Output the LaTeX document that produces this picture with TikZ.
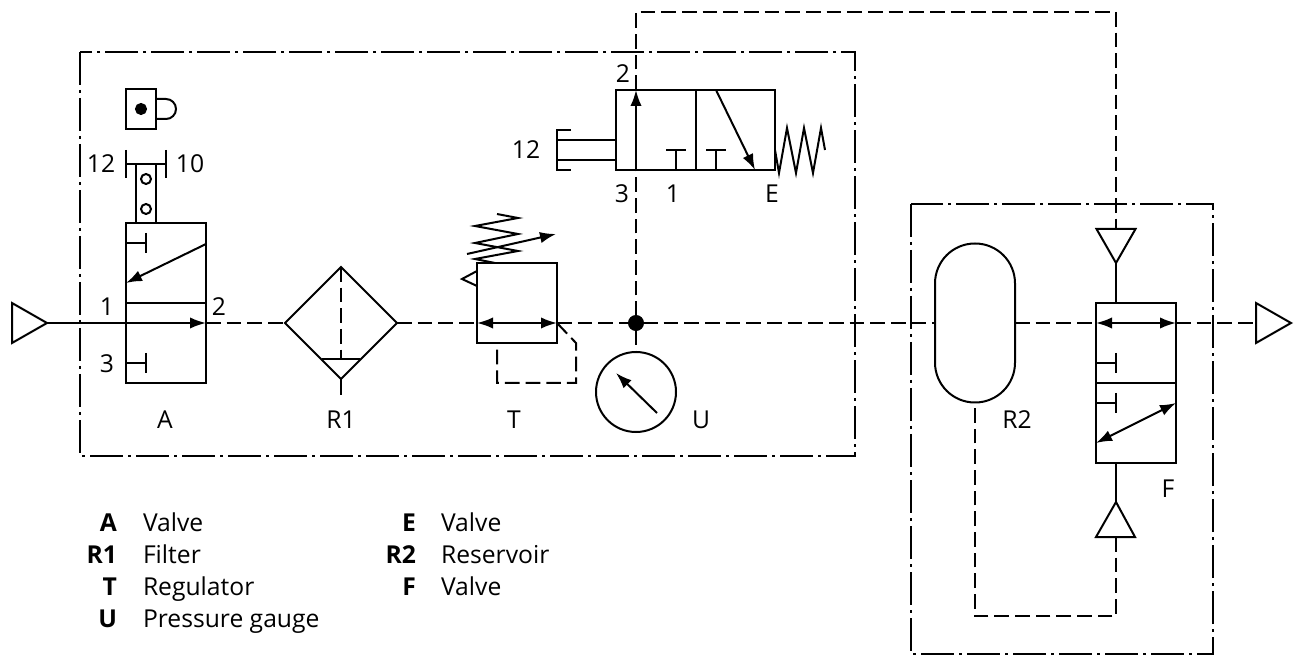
\documentclass[tikz,border=0pt]{standalone}
\usepackage{fontspec}
\setmainfont{Open Sans}
\usetikzlibrary{arrows.meta,shapes.geometric}

\begin{document}
\begin{tikzpicture}[x=0.75pt,y=-0.75pt,line width=1.5pt,
    >={Latex[length=12pt,width=8.5pt]},
    pipe/.style={draw,line cap=butt},
    pilot/.style={draw,dash pattern=on 11pt off 4.5pt},
    frame/.style={draw,dash pattern=on 25pt off 3.5pt on 2.5pt off 3.5pt},
    block/.style={draw,rectangle,inner sep=0pt,outer sep=0pt},
    lbl/.style={inner sep=0pt,anchor=base,font=\fontsize{18.5}{21}\selectfont},
    keyname/.style={inner sep=0pt,anchor=base east,font=\fontsize{18.5}{21}\selectfont\bfseries},
    keytext/.style={inner sep=0pt,anchor=base west,font=\fontsize{18.5}{21}\selectfont},
    hole/.style={draw,circle,inner sep=0pt,outer sep=0pt,minimum size=7.5pt}]
    \useasboundingbox (0,0) rectangle (1295,655);
    \draw[frame] (80,52) rectangle (855,456);
    \draw[frame] (911,204) rectangle (1213,654);

    \node[block,minimum width=60pt,minimum height=120pt] (valveA) at (166,303) {};
    \node[block,diamond,aspect=1,minimum width=84pt,minimum height=84pt] (filter) at (341,323) {};
    \node[block,minimum width=60pt,minimum height=60pt] (regT) at (517,303) {};
    \node[block,minimum width=119.25pt,minimum height=60pt] (valveE) at (695.5,130) {};
    \node[block,minimum width=60pt,minimum height=119.25pt,rounded corners=29.9pt] (tank) at (975,323) {};
    \node[block,minimum width=60pt,minimum height=120pt] (valveF) at (1136,383) {};
    \node[block,circle,fill=black,minimum size=10.5pt] (junction) at (636,323) {};
    \node[block,circle,minimum size=60pt] (gauge) at (636,392) {};
    \node[block,minimum width=22.5pt,minimum height=30pt] (lock) at (141,109) {};
    \node[block,circle,fill=black,minimum size=7.5pt] (lockdot) at (141,109) {};
    \node[hole] (rollA) at (146,179) {};
    \node[hole] (rollB) at (146,209) {};

    \coordinate (inlet) at (47,323);
    \coordinate (outlet) at (1256,323);
    \coordinate (pilotF) at (1116,263);
    \coordinate (drainF) at (1116,502);

    % supply line
    \draw[block] (inlet) -- ++(-35,-20) -- ++(0,40) -- cycle;
    \draw[block] (outlet) -- ++(0,-20) -- ++(35,20) -- ++(-35,20) -- cycle;
    \draw[pipe,->] (inlet) -- (valveA.east |- inlet);
    \draw[pilot] (valveA.east |- inlet) -- (filter.west);
    \draw[pilot] (filter.east) -- (regT.west |- filter.east);
    \draw[pipe,<->] (regT.west |- junction) -- (regT.east |- junction);
    \draw[pilot] (regT.east |- junction) -- (junction);
    \draw[pilot] (junction) -- (tank.west);
    \draw[pilot] (tank.east) -- (valveF.west |- tank.east);
    \draw[pipe,<->] (valveF.west |- junction) -- (valveF.east |- junction);
    \draw[pilot] (valveF.east |- junction) -- (outlet);

    % valve A
    \draw[block] (126,303) -- (206,303);
    \draw[block] (126,243) -- (146,243) (146,233) -- (146,253);
    \draw[block] (126,363) -- (146,363) (146,353) -- (146,373);
    \draw[pipe,->] (206,244) -- (126,283);
    \draw[block] (136,223) -- (136,164) (156,223) -- (156,164);
    \draw[block] (126,164) -- (166,164) (126,150) -- (126,178) (166,150) -- (166,178);
    \draw[block] (156,99) -- (166,99) arc[start angle=-90,end angle=90,radius=10] -- (156,119);

    % filter
    \draw[pilot] (filter.north) -- ++(0,92);
    \draw[block] (322,359) -- (360,359);
    \draw[block] (filter.south) -- ++(0,16);

    % regulator
    \draw[block] (495,263) -- (475,259) -- (518,251) -- (475,243) -- (518,234) -- (475,226) -- (518,218) -- (497,214);
    \draw[pipe,->] (467,254) -- (556,234);
    \draw[block] (477,271) -- (462,279) -- (477,286);
    \draw[pilot] (regT.east |- junction) -- (576,343) -- (576,383) -- (497,383) -- (497,343);

    % valve E
    \draw[block] (696,90) -- (696,170);
    \draw[pilot] (junction) -- (636,170);
    \draw[pipe,->] (636,170) -- (636,90);
    \draw[pilot] (636,90) -- (636,12) -- (1116,12) -- (1116,229);
    \draw[block] (676,170) -- (676,150) (666,150) -- (686,150);
    \draw[block] (716,170) -- (716,150) (706,150) -- (726,150);
    \draw[pipe,->] (716,90) -- (755,170);
    \draw[block] (775,150) -- (779,173) -- (787,128) -- (796,173) -- (804,128) -- (813,173) -- (821,128) -- (825,150);
    \draw[block] (616,140) -- (557,140) (616,160) -- (557,160);
    \draw[block] (571,130) -- (557,130) -- (557,170) -- (571,170);

    % gauge
    \draw[pilot] (junction) -- (gauge.north);
    \draw[pipe,->] (657,413) -- (616,373);

    % valve F
    \draw[block] (1096,383) -- (1176,383);
    \draw[block] (1096,363) -- (1116,363) (1116,353) -- (1116,373);
    \draw[block] (1096,403) -- (1116,403) (1116,393) -- (1116,413);
    \draw[pipe,<->] (1096,443) -- (1176,403);
    \draw[block] (pilotF) -- ++(-19.5,-34) -- ++(39,0) -- cycle;
    \draw[block] (pilotF) -- (1116,303);
    \draw[block] (1116,463) -- (drainF);
    \draw[block] (drainF) -- ++(-20,35) -- ++(39,0) -- cycle;
    \draw[pilot] (1116,537) -- (1116,616) -- (975,616) -- (tank.south);

    \node[lbl] (labA12) at (101,173) {12};
    \node[lbl] (labA10) at (190,173) {10};
    \node[lbl] (labA1) at (107,316) {1};
    \node[lbl] (labA2) at (219,316) {2};
    \node[lbl] (labA3) at (107,373) {3};
    \node[lbl] (labE12) at (526,159) {12};
    \node[lbl] (labE2) at (623,83) {2};
    \node[lbl] (labE3) at (622,203) {3};
    \node[lbl] (labE1) at (673,203) {1};
    \node[lbl] (labEE) at (772,203) {E};
    \node[lbl] (nameA) at (165,429) {A};
    \node[lbl] (nameR1) at (341,429) {R1};
    \node[lbl] (nameT) at (514,429) {T};
    \node[lbl] (nameU) at (701,429) {U};
    \node[lbl] (nameR2) at (1017,429) {R2};
    \node[lbl] (nameF) at (1168,497) {F};

    \node[keyname] (keyA) at (118,531) {A};
    \node[keyname] (keyR1) at (118,563) {R1};
    \node[keyname] (keyT) at (118,595) {T};
    \node[keyname] (keyU) at (118,627) {U};
    \node[keytext] (txtA) at (142,531) {Valve};
    \node[keytext] (txtR1) at (142,563) {Filter};
    \node[keytext] (txtT) at (142,595) {Regulator};
    \node[keytext] (txtU) at (142,627) {Pressure gauge};
    \node[keyname] (keyE) at (417,531) {E};
    \node[keyname] (keyR2) at (417,563) {R2};
    \node[keyname] (keyF) at (417,595) {F};
    \node[keytext] (txtE) at (440,531) {Valve};
    \node[keytext] (txtR2) at (440,563) {Reservoir};
    \node[keytext] (txtF) at (440,595) {Valve};
\end{tikzpicture}
\end{document}
